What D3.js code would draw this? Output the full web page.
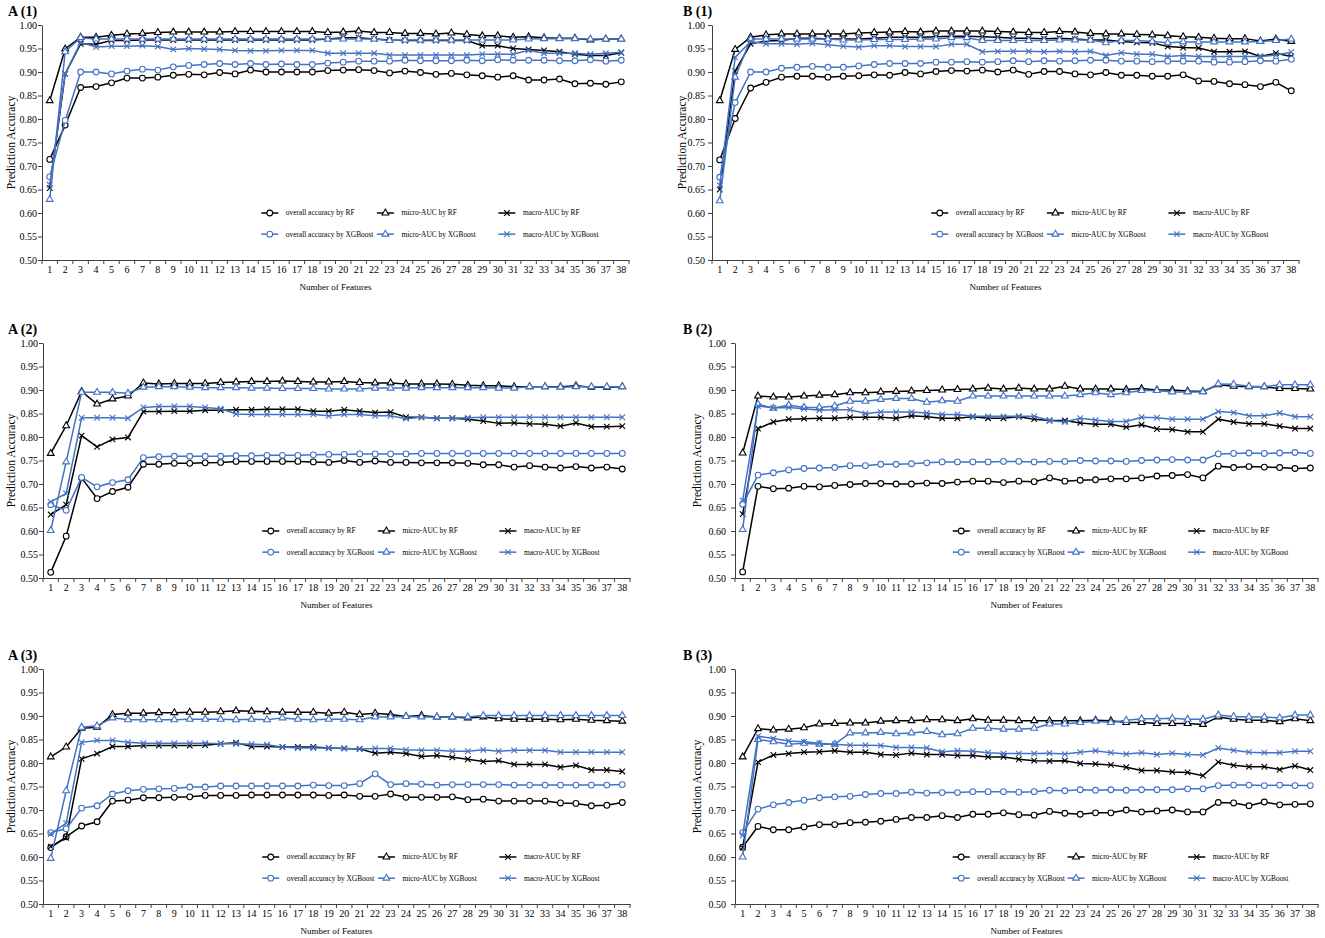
<!DOCTYPE html>
<html>
<head>
<meta charset="utf-8"/>
<title>Prediction accuracy by number of features</title>
<style>
  body { margin: 0; background: #fff; }
  text { font-family: "Liberation Serif", "Times New Roman", serif; fill: #000; }
  .axis path, .axis line { stroke: #404040; stroke-width: 1px; }
  .axis text { font-size: 10px; font-family: "Liberation Serif", serif; }
  .serie { fill: none; stroke-width: 1.5px; }
  .mark { fill: #fff; stroke-width: 1.1px; }
  .legend text { font-size: 7.4px; }
</style>
<script src="https://d3js.org/d3.v7.min.js"></script>
</head>
<body>
<svg id="chart" width="1325" height="938"></svg>
<script>
var features = ["1","2","3","4","5","6","7","8","9","10","11","12","13","14","15","16","17","18","19",
  "20","21","22","23","24","25","26","27","28","29","30","31","32","33","34","35","36","37","38"];
var yTicks = [0.50, 0.55, 0.60, 0.65, 0.70, 0.75, 0.80, 0.85, 0.90, 0.95, 1.00];

// A (1)
var a1OverallRF = [0.714,0.787,0.867,0.869,0.877,0.887,0.887,0.889,0.893,0.895,0.894,0.899,0.896,0.904,0.900,0.900,0.900,0.900,0.903,
  0.904,0.905,0.903,0.898,0.902,0.899,0.895,0.897,0.894,0.892,0.889,0.892,0.883,0.883,0.885,0.875,0.876,0.874,0.879];
var a1MicroRF = [0.839,0.949,0.974,0.974,0.978,0.981,0.982,0.984,0.985,0.985,0.985,0.985,0.986,0.986,0.986,0.986,0.986,0.986,0.984,
  0.985,0.987,0.984,0.984,0.982,0.982,0.981,0.983,0.980,0.977,0.977,0.974,0.975,0.973,0.972,0.972,0.968,0.970,0.970];
var a1MacroRF = [0.653,0.896,0.960,0.959,0.967,0.967,0.968,0.968,0.968,0.968,0.968,0.968,0.968,0.968,0.968,0.968,0.968,0.968,0.970,
  0.973,0.973,0.970,0.968,0.967,0.967,0.967,0.967,0.967,0.956,0.956,0.950,0.948,0.946,0.943,0.938,0.935,0.935,0.941];
var a1OverallXGB = [0.677,0.797,0.900,0.900,0.896,0.902,0.906,0.904,0.911,0.914,0.916,0.918,0.916,0.918,0.916,0.917,0.916,0.916,0.919,
  0.921,0.923,0.923,0.923,0.925,0.924,0.924,0.924,0.925,0.924,0.926,0.925,0.925,0.925,0.924,0.924,0.926,0.923,0.925];
var a1MicroXGB = [0.629,0.943,0.973,0.970,0.970,0.970,0.970,0.970,0.970,0.970,0.970,0.970,0.970,0.970,0.970,0.970,0.970,0.970,0.970,
  0.970,0.970,0.970,0.967,0.968,0.968,0.968,0.968,0.968,0.968,0.968,0.968,0.970,0.971,0.971,0.971,0.970,0.970,0.970];
var a1MacroXGB = [0.660,0.896,0.963,0.953,0.955,0.955,0.956,0.954,0.948,0.950,0.949,0.948,0.946,0.945,0.945,0.946,0.946,0.946,0.940,
  0.940,0.940,0.940,0.936,0.936,0.936,0.936,0.936,0.936,0.938,0.938,0.938,0.946,0.940,0.940,0.940,0.938,0.940,0.942];

// A (2)
var a2OverallRF = [0.512,0.589,0.713,0.669,0.684,0.693,0.742,0.742,0.744,0.744,0.745,0.746,0.748,0.748,0.748,0.748,0.748,0.747,0.746,
  0.750,0.746,0.749,0.746,0.746,0.745,0.745,0.745,0.744,0.741,0.741,0.736,0.739,0.736,0.734,0.737,0.734,0.736,0.732];
var a2MicroRF = [0.765,0.824,0.897,0.870,0.881,0.887,0.915,0.913,0.914,0.914,0.914,0.916,0.917,0.918,0.918,0.919,0.918,0.917,0.917,
  0.918,0.916,0.915,0.915,0.913,0.913,0.913,0.912,0.910,0.909,0.909,0.907,0.907,0.907,0.907,0.909,0.906,0.906,0.907];
var a2MacroRF = [0.635,0.656,0.803,0.779,0.795,0.799,0.854,0.854,0.855,0.855,0.857,0.857,0.858,0.858,0.859,0.859,0.859,0.855,0.855,
  0.858,0.855,0.852,0.853,0.842,0.842,0.840,0.840,0.838,0.834,0.829,0.830,0.828,0.827,0.823,0.830,0.822,0.822,0.823];
var a2OverallXGB = [0.656,0.644,0.714,0.694,0.703,0.709,0.756,0.758,0.759,0.759,0.759,0.759,0.760,0.760,0.761,0.761,0.761,0.762,0.763,
  0.763,0.764,0.764,0.764,0.764,0.765,0.765,0.765,0.765,0.765,0.765,0.765,0.765,0.765,0.765,0.765,0.765,0.765,0.765];
var a2MicroXGB = [0.601,0.747,0.895,0.895,0.895,0.893,0.906,0.907,0.907,0.906,0.905,0.905,0.905,0.904,0.904,0.903,0.903,0.903,0.902,
  0.902,0.902,0.904,0.904,0.904,0.905,0.905,0.905,0.905,0.905,0.904,0.904,0.907,0.907,0.906,0.907,0.907,0.907,0.907];
var a2MacroXGB = [0.662,0.680,0.841,0.841,0.841,0.840,0.863,0.865,0.865,0.865,0.863,0.860,0.849,0.848,0.848,0.848,0.848,0.848,0.845,
  0.848,0.848,0.845,0.845,0.839,0.842,0.840,0.840,0.841,0.842,0.842,0.842,0.842,0.842,0.842,0.842,0.842,0.842,0.842];

// A (3)
var a3OverallRF = [0.620,0.643,0.666,0.675,0.719,0.721,0.726,0.726,0.727,0.728,0.731,0.731,0.731,0.732,0.732,0.732,0.732,0.732,0.731,
  0.732,0.729,0.729,0.734,0.727,0.727,0.727,0.728,0.722,0.723,0.719,0.719,0.719,0.719,0.715,0.714,0.709,0.710,0.716];
var a3MicroRF = [0.813,0.834,0.874,0.876,0.903,0.906,0.906,0.907,0.907,0.908,0.908,0.909,0.911,0.910,0.909,0.908,0.908,0.908,0.906,
  0.908,0.903,0.906,0.903,0.899,0.901,0.898,0.898,0.896,0.898,0.894,0.893,0.893,0.893,0.892,0.893,0.891,0.890,0.889];
var a3MacroRF = [0.622,0.641,0.809,0.820,0.835,0.835,0.837,0.837,0.837,0.837,0.838,0.841,0.843,0.835,0.835,0.834,0.834,0.834,0.832,
  0.831,0.830,0.821,0.823,0.820,0.814,0.816,0.812,0.808,0.803,0.805,0.797,0.797,0.797,0.791,0.795,0.785,0.785,0.782];
var a3OverallXGB = [0.652,0.660,0.704,0.709,0.734,0.741,0.744,0.745,0.746,0.749,0.749,0.751,0.751,0.751,0.751,0.751,0.751,0.753,0.752,
  0.752,0.756,0.777,0.754,0.756,0.755,0.753,0.754,0.754,0.754,0.754,0.753,0.753,0.753,0.753,0.753,0.753,0.753,0.754];
var a3MicroXGB = [0.597,0.741,0.876,0.879,0.896,0.892,0.892,0.892,0.892,0.893,0.893,0.893,0.892,0.893,0.892,0.896,0.893,0.892,0.893,
  0.893,0.892,0.898,0.898,0.899,0.898,0.898,0.898,0.898,0.901,0.901,0.901,0.901,0.901,0.901,0.901,0.901,0.901,0.901];
var a3MacroXGB = [0.649,0.672,0.844,0.848,0.848,0.844,0.842,0.842,0.842,0.842,0.842,0.841,0.841,0.840,0.839,0.834,0.832,0.832,0.832,
  0.831,0.830,0.831,0.831,0.828,0.827,0.827,0.825,0.825,0.828,0.825,0.827,0.827,0.827,0.823,0.823,0.823,0.823,0.823];

// B (1)
var b1OverallRF = [0.713,0.801,0.866,0.878,0.889,0.891,0.891,0.889,0.891,0.892,0.894,0.893,0.899,0.896,0.901,0.903,0.902,0.904,0.900,
  0.904,0.895,0.901,0.901,0.896,0.894,0.899,0.893,0.893,0.891,0.891,0.894,0.881,0.880,0.875,0.873,0.869,0.878,0.860];
var b1MicroRF = [0.839,0.948,0.974,0.979,0.981,0.981,0.981,0.981,0.981,0.983,0.984,0.985,0.986,0.985,0.987,0.987,0.987,0.987,0.986,
  0.985,0.984,0.984,0.986,0.985,0.982,0.981,0.981,0.980,0.979,0.977,0.975,0.974,0.972,0.971,0.971,0.966,0.970,0.965];
var b1MacroRF = [0.650,0.902,0.960,0.966,0.967,0.972,0.972,0.970,0.970,0.970,0.972,0.974,0.974,0.974,0.975,0.976,0.976,0.975,0.974,
  0.972,0.972,0.971,0.972,0.970,0.968,0.968,0.965,0.963,0.962,0.954,0.952,0.951,0.943,0.943,0.944,0.933,0.940,0.933];
var b1OverallXGB = [0.676,0.835,0.900,0.900,0.908,0.910,0.912,0.910,0.910,0.913,0.916,0.918,0.918,0.918,0.921,0.921,0.922,0.921,0.922,
  0.924,0.922,0.924,0.923,0.924,0.925,0.925,0.923,0.923,0.922,0.923,0.923,0.923,0.921,0.921,0.922,0.924,0.923,0.927];
var b1MicroXGB = [0.626,0.889,0.970,0.970,0.970,0.970,0.970,0.970,0.968,0.968,0.969,0.969,0.969,0.970,0.970,0.973,0.973,0.967,0.967,
  0.967,0.967,0.967,0.968,0.968,0.968,0.962,0.967,0.967,0.965,0.962,0.964,0.964,0.964,0.964,0.964,0.965,0.967,0.970];
var b1MacroXGB = [0.659,0.931,0.965,0.960,0.960,0.959,0.961,0.958,0.955,0.953,0.956,0.956,0.954,0.954,0.954,0.959,0.959,0.943,0.944,
  0.944,0.944,0.943,0.944,0.943,0.944,0.935,0.941,0.938,0.938,0.933,0.935,0.933,0.933,0.933,0.933,0.933,0.936,0.942];

// B (2)
var b2OverallRF = [0.513,0.695,0.690,0.691,0.695,0.694,0.697,0.699,0.701,0.701,0.700,0.700,0.702,0.701,0.704,0.706,0.706,0.703,0.706,
  0.705,0.713,0.706,0.708,0.709,0.711,0.711,0.713,0.717,0.718,0.720,0.713,0.738,0.735,0.737,0.736,0.735,0.733,0.734];
var b2MicroRF = [0.766,0.887,0.885,0.885,0.887,0.889,0.890,0.894,0.894,0.896,0.897,0.898,0.899,0.900,0.901,0.902,0.904,0.902,0.904,
  0.902,0.902,0.908,0.902,0.902,0.902,0.901,0.903,0.900,0.900,0.898,0.897,0.911,0.908,0.907,0.907,0.903,0.903,0.902];
var b2MacroRF = [0.636,0.818,0.832,0.838,0.839,0.840,0.840,0.842,0.842,0.842,0.840,0.845,0.843,0.840,0.840,0.843,0.840,0.840,0.843,
  0.838,0.835,0.835,0.830,0.827,0.827,0.821,0.826,0.817,0.816,0.811,0.811,0.838,0.832,0.828,0.828,0.823,0.818,0.818];
var b2OverallXGB = [0.657,0.719,0.724,0.730,0.733,0.734,0.735,0.739,0.739,0.742,0.742,0.743,0.745,0.747,0.747,0.747,0.747,0.748,0.748,
  0.747,0.748,0.748,0.750,0.749,0.749,0.748,0.750,0.751,0.752,0.751,0.751,0.764,0.765,0.766,0.765,0.766,0.767,0.765];
var b2MicroXGB = [0.603,0.870,0.861,0.868,0.863,0.863,0.866,0.876,0.876,0.880,0.882,0.882,0.874,0.877,0.876,0.887,0.887,0.887,0.887,
  0.887,0.887,0.887,0.890,0.894,0.890,0.894,0.899,0.899,0.896,0.896,0.896,0.913,0.912,0.908,0.907,0.911,0.911,0.911];
var b2MacroXGB = [0.665,0.866,0.862,0.863,0.860,0.857,0.858,0.858,0.850,0.853,0.853,0.853,0.851,0.848,0.848,0.844,0.844,0.844,0.844,
  0.844,0.835,0.832,0.840,0.836,0.833,0.833,0.842,0.841,0.838,0.838,0.838,0.854,0.852,0.845,0.845,0.851,0.843,0.843];

// B (3)
var b3OverallRF = [0.621,0.665,0.658,0.658,0.664,0.669,0.669,0.673,0.674,0.676,0.680,0.684,0.684,0.688,0.684,0.691,0.691,0.694,0.690,
  0.689,0.697,0.693,0.691,0.694,0.694,0.700,0.696,0.698,0.700,0.696,0.696,0.716,0.715,0.709,0.717,0.711,0.712,0.713];
var b3MicroRF = [0.813,0.873,0.870,0.872,0.875,0.883,0.884,0.885,0.885,0.889,0.890,0.890,0.892,0.892,0.890,0.894,0.891,0.891,0.890,
  0.890,0.890,0.890,0.890,0.891,0.890,0.886,0.886,0.884,0.884,0.884,0.882,0.898,0.893,0.891,0.891,0.888,0.894,0.890];
var b3MacroRF = [0.620,0.802,0.817,0.820,0.823,0.824,0.826,0.823,0.823,0.818,0.817,0.821,0.818,0.818,0.816,0.816,0.813,0.813,0.808,
  0.805,0.804,0.805,0.799,0.798,0.796,0.791,0.784,0.784,0.781,0.780,0.773,0.802,0.795,0.792,0.792,0.786,0.794,0.785];
var b3OverallXGB = [0.652,0.702,0.711,0.716,0.721,0.726,0.728,0.729,0.733,0.735,0.735,0.738,0.736,0.737,0.737,0.739,0.739,0.739,0.738,
  0.739,0.742,0.741,0.743,0.742,0.743,0.742,0.743,0.743,0.743,0.745,0.745,0.752,0.753,0.753,0.752,0.753,0.752,0.752];
var b3MicroXGB = [0.600,0.850,0.845,0.840,0.842,0.840,0.840,0.864,0.864,0.865,0.862,0.864,0.867,0.860,0.862,0.874,0.874,0.872,0.872,
  0.874,0.883,0.883,0.886,0.889,0.886,0.891,0.894,0.894,0.895,0.893,0.893,0.902,0.899,0.898,0.898,0.896,0.902,0.902];
var b3MacroXGB = [0.646,0.857,0.852,0.847,0.845,0.842,0.840,0.838,0.838,0.837,0.833,0.833,0.832,0.824,0.826,0.825,0.822,0.820,0.820,
  0.820,0.821,0.819,0.823,0.826,0.822,0.819,0.822,0.818,0.821,0.818,0.817,0.832,0.827,0.823,0.822,0.822,0.825,0.825];

var seriesInfo = [
  {key: "overallRF",  label: "overall accuracy by RF",      color: "#000000", shape: "circle"},
  {key: "microRF",    label: "micro-AUC by RF",             color: "#000000", shape: "triangle"},
  {key: "macroRF",    label: "macro-AUC by RF",             color: "#000000", shape: "cross"},
  {key: "overallXGB", label: "overall accuracy by XGBoost", color: "#4472C4", shape: "circle"},
  {key: "microXGB",   label: "micro-AUC by XGBoost",        color: "#4472C4", shape: "triangle"},
  {key: "macroXGB",   label: "macro-AUC by XGBoost",        color: "#4472C4", shape: "cross"}
];

var panels = [
  {title: "A (1)", left: 42, right: 629, top: 25, bottom: 260, titleX: 8, yTitleX: 11, pad: 1,
   data: {overallRF: a1OverallRF, microRF: a1MicroRF, macroRF: a1MacroRF, overallXGB: a1OverallXGB, microXGB: a1MicroXGB, macroXGB: a1MacroXGB}},
  {title: "A (2)", left: 43, right: 630, top: 343, bottom: 578, titleX: 8, yTitleX: 11, pad: 1,
   data: {overallRF: a2OverallRF, microRF: a2MicroRF, macroRF: a2MacroRF, overallXGB: a2OverallXGB, microXGB: a2MicroXGB, macroXGB: a2MacroXGB}},
  {title: "A (3)", left: 43, right: 630, top: 669, bottom: 904, titleX: 8, yTitleX: 11, pad: 1,
   data: {overallRF: a3OverallRF, microRF: a3MicroRF, macroRF: a3MacroRF, overallXGB: a3OverallXGB, microXGB: a3MicroXGB, macroXGB: a3MacroXGB}},
  {title: "B (1)", left: 712, right: 1299, top: 25, bottom: 260, titleX: 683, yTitleX: 682, pad: 3,
   data: {overallRF: b1OverallRF, microRF: b1MicroRF, macroRF: b1MacroRF, overallXGB: b1OverallXGB, microXGB: b1MicroXGB, macroXGB: b1MacroXGB}},
  {title: "B (2)", left: 735, right: 1318, top: 343, bottom: 578, titleX: 683, yTitleX: 697, pad: 5,
   data: {overallRF: b2OverallRF, microRF: b2MicroRF, macroRF: b2MacroRF, overallXGB: b2OverallXGB, microXGB: b2MicroXGB, macroXGB: b2MacroXGB}},
  {title: "B (3)", left: 735, right: 1318, top: 669, bottom: 904, titleX: 683, yTitleX: 697, pad: 5,
   data: {overallRF: b3OverallRF, microRF: b3MicroRF, macroRF: b3MacroRF, overallXGB: b3OverallXGB, microXGB: b3MicroXGB, macroXGB: b3MacroXGB}}
];

var svg = d3.select("#chart");

var symbolTypes = {circle: d3.symbolCircle, triangle: d3.symbolTriangle, cross: d3.symbolTimes || d3.symbolCross};
var symbolSizes = {circle: 26, triangle: 20, cross: 22};
function marker(shape) {
  return d3.symbol().type(symbolTypes[shape]).size(symbolSizes[shape])();
}

// legend columns (fraction of plot width) and rows (value level)
var legendCols = [0.388, 0.585, 0.792];
var legendRows = [0.60, 0.555];

panels.forEach(function(p) {
  var g = svg.append("g");
  var x = d3.scaleBand().domain(features).range([p.left, p.right]);
  var y = d3.scaleLinear().domain([0.5, 1]).range([p.bottom, p.top]);
  var cx = function(i) { return x(features[i]) + x.bandwidth() / 2; };

  // y axis
  g.append("g")
    .attr("class", "axis")
    .attr("transform", "translate(" + p.left + ",0)")
    .call(d3.axisLeft(y).tickValues(yTicks).tickFormat(d3.format(".2f"))
      .tickSize(4).tickSizeOuter(0).tickPadding(p.pad));

  // x axis, labels centred, tick marks between categories
  var xa = g.append("g")
    .attr("class", "axis")
    .attr("transform", "translate(0," + p.bottom + ")")
    .call(d3.axisBottom(x).tickSize(0).tickSizeOuter(0).tickPadding(6));
  xa.selectAll(".bound")
    .data(features.concat(["end"]))
    .enter().append("line")
    .attr("class", "bound")
    .attr("x1", function(d) { return d === "end" ? p.right : x(d); })
    .attr("x2", function(d) { return d === "end" ? p.right : x(d); })
    .attr("y1", 0)
    .attr("y2", 4);

  // titles
  g.append("text")
    .attr("x", p.titleX).attr("y", p.top - 9)
    .style("font-weight", "bold").style("font-size", "14px")
    .text(p.title);

  g.append("text")
    .attr("transform", "translate(" + (p.yTitleX + 4) + "," + ((p.top + p.bottom) / 2) + ") rotate(-90)")
    .attr("text-anchor", "middle")
    .style("font-size", "11.5px")
    .text("Prediction Accuracy");

  g.append("text")
    .attr("x", (p.left + p.right) / 2).attr("y", p.bottom + 30)
    .attr("text-anchor", "middle")
    .style("font-size", "9px")
    .text("Number of Features");

  // series
  var line = d3.line()
    .x(function(d, i) { return cx(i); })
    .y(function(d) { return y(d); });

  seriesInfo.forEach(function(s) {
    var vals = p.data[s.key];
    g.append("path")
      .datum(vals)
      .attr("class", "serie")
      .attr("stroke", s.color)
      .attr("d", line);

    g.selectAll(".m-" + s.key)
      .data(vals)
      .enter().append("path")
      .attr("class", "mark m-" + s.key)
      .attr("stroke", s.color)
      .attr("transform", function(d, i) { return "translate(" + cx(i) + "," + y(d) + ")"; })
      .attr("d", marker(s.shape));
  });

  // legend
  var leg = g.append("g").attr("class", "legend");
  seriesInfo.forEach(function(s, k) {
    var lx = p.left + (p.right - p.left) * legendCols[k % 3];
    var ly = y(legendRows[Math.floor(k / 3)]);
    leg.append("line")
      .attr("x1", lx - 8.5).attr("x2", lx + 8.5)
      .attr("y1", ly).attr("y2", ly)
      .attr("stroke", s.color).attr("stroke-width", 1.5);
    leg.append("path")
      .attr("class", "mark")
      .attr("stroke", s.color)
      .attr("transform", "translate(" + lx + "," + ly + ")")
      .attr("d", marker(s.shape));
    leg.append("text")
      .attr("x", lx + 16).attr("y", ly)
      .attr("dy", "0.32em")
      .text(s.label);
  });
});
</script>
</body>
</html>
